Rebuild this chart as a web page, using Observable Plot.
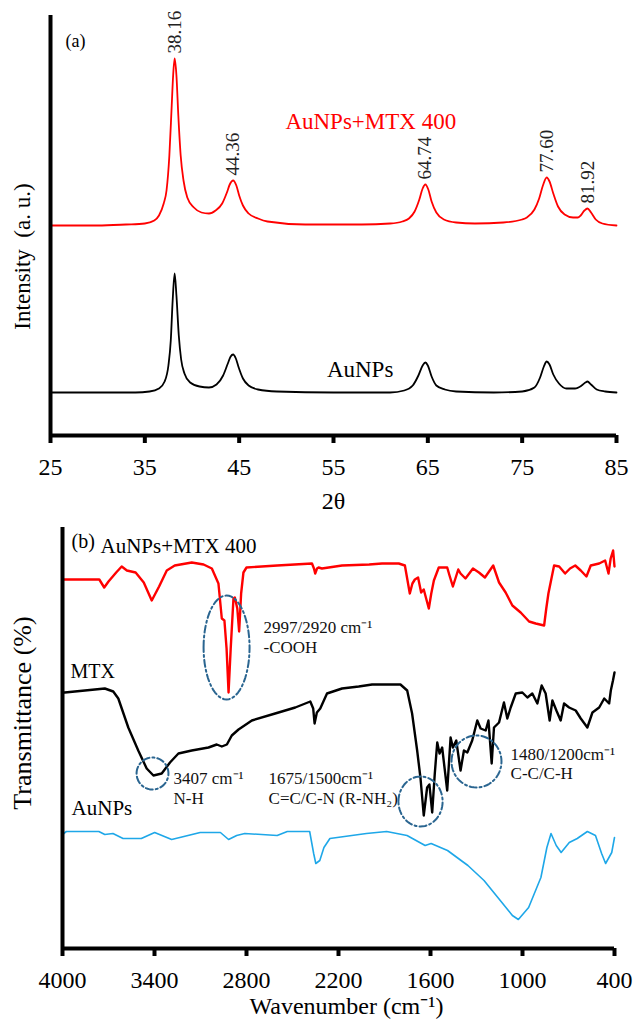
<!DOCTYPE html>
<html><head><meta charset="utf-8">
<script src="https://cdn.jsdelivr.net/npm/d3@7"></script>
<script src="https://cdn.jsdelivr.net/npm/@observablehq/plot@0.6"></script>
<style>
html,body{margin:0;padding:0;background:#fff;}
#chart{width:633px;}
#chart svg{display:block;}
#chart svg, #chart svg text, #chart svg tspan{font-family:"Liberation Serif","Times New Roman",Times,serif !important;}
</style></head><body><div id="chart"></div>
<script>
// ---------- Panel (a): XRD ----------
const xrdTicks = [25, 35, 45, 55, 65, 75, 85];
const xrdRed = [[25,210],[30,210],[33,211],[35,212],[36,215],[36.5,220],[37,232],[37.3,245],[37.6,280],[37.85,330],[38.0,360],[38.16,377],[38.35,360],[38.55,320],[38.8,280],[39.1,255],[39.5,238],[40.2,228],[41,223],[41.8,222],[42.5,225],[43.2,232],[43.7,243],[44.0,251],[44.36,255],[44.7,250],[45.0,240],[45.4,230],[46.0,222],[47,217],[48,214],[52,211],[58,211],[61,212],[62.3,214],[63,217],[63.6,224],[64.1,236],[64.45,247],[64.74,251],[65.05,246],[65.4,234],[65.9,223],[66.7,216],[68,213],[70,212],[73,213],[75,216],[75.5,218],[76.3,226],[76.8,237],[77.2,250],[77.6,258],[77.9,254],[78.3,242],[78.8,229],[79.5,221],[80.4,218],[80.9,218],[81.2,220],[81.6,225],[81.92,227],[82.3,223],[82.8,216],[83.5,212],[85,210]];
const xrdBlack = [[25,43],[30,43],[34,43],[35.5,44],[36.5,47],[37.1,54],[37.5,70],[37.75,95],[37.95,135],[38.16,162],[38.35,140],[38.6,100],[38.85,76],[39.2,62],[39.8,53],[40.8,49],[41.8,48],[42.6,51],[43.3,60],[43.8,72],[44.1,79],[44.36,81],[44.65,77],[44.95,68],[45.4,57],[46.0,50],[47,46],[49,44],[55,43],[61,43],[62.5,45],[63.4,50],[64.0,60],[64.45,70],[64.74,73],[65.0,70],[65.4,59],[65.9,50],[66.8,46],[68,44],[72,43],[75,44],[76.3,48],[76.9,58],[77.3,69],[77.6,74],[77.9,71],[78.3,61],[78.9,52],[79.7,47],[80.6,47],[81.3,50],[81.7,53],[81.92,54],[82.3,51],[82.9,46],[83.8,44],[85,43]];
const peakTheta = [38.16, 44.36, 64.74, 77.60, 81.92];
const peakLabels = ["38.16", "44.36", "64.74", "77.60", "81.92"];
const peakTop = [377, 255, 251, 258, 227];
const xrdNotes = [
  {x: 26.6, y: 394, text: "(a)", color: "black", size: 18},
  {x: 49.9, y: 314, text: "AuNPs+MTX 400", color: "#ff0000", size: 23},
  {x: 54.3, y: 66, text: "AuNPs", color: "black", size: 23}
];

// ---------- Panel (b): FTIR ----------
const wnTicks = [4000, 3400, 2800, 2200, 1600, 1000, 400];
const ftirComposite = [[4000,369],[3850,369],[3760,369],[3728,361],[3700,367],[3650,376],[3614,382],[3580,378],[3523,376],[3470,366],[3418,348],[3370,362],[3320,378],[3268,383],[3157,386],[3080,384],[3026,380],[2983,365],[2961,330],[2944,328],[2930,300],[2917,256],[2903,300],[2885,350],[2876,351],[2860,340],[2848,317],[2835,355],[2820,376],[2800,381],[2600,383],[2373,385],[2360,380],[2352,375],[2340,380],[2330,381],[2308,380],[2264,381],[2177,383],[2000,384],[1916,385],[1807,385],[1767,383],[1759,376],[1735,355],[1718,365],[1702,369],[1681,371],[1661,356],[1644,359],[1611,340],[1595,355],[1578,368],[1546,381],[1491,381],[1476,373],[1454,362],[1419,379],[1404,375],[1372,370],[1323,380],[1284,376],[1245,371],[1191,383],[1153,366],[1110,356],[1066,343],[1012,336],[957,327],[914,325],[859,323],[845,340],[831,355],[794,383],[761,382],[722,375],[690,380],[656,383],[620,378],[583,372],[555,383],[500,385],[461,388],[439,375],[425,390],[409,398],[400,382]];
const ftirMTX = [[4000,256],[3985,256],[3854,258],[3724,260],[3669,257],[3636,250],[3571,221],[3506,198],[3451,180],[3407,173],[3353,175],[3299,186],[3244,195],[3157,198],[3048,201],[2994,204],[2961,202],[2928,204],[2896,213],[2852,219],[2765,228],[2613,235],[2482,241],[2384,247],[2365,240],[2356,225],[2341,236],[2319,240],[2275,255],[2177,260],[2068,262],[1981,264],[1796,264],[1752,258],[1720,235],[1687,198],[1665,170],[1644,133],[1622,161],[1607,164],[1589,136],[1572,175],[1556,206],[1541,195],[1524,201],[1491,158],[1469,211],[1454,201],[1432,208],[1404,178],[1382,198],[1360,196],[1328,208],[1295,228],[1273,220],[1240,218],[1222,228],[1201,185],[1186,221],[1153,226],[1121,246],[1099,230],[1077,241],[1044,255],[1001,256],[968,251],[936,255],[903,245],[875,263],[849,255],[823,228],[805,248],[779,238],[751,228],[729,245],[696,241],[653,238],[620,230],[577,221],[544,236],[500,241],[467,250],[435,245],[424,258],[410,268],[400,276]];
const ftirAuNPs = [[4000,114],[3975,117],[3763,117],[3724,114],[3671,115],[3605,110],[3486,110],[3399,116],[3288,109],[3102,116],[2970,116],[2917,109],[2864,113],[2811,115],[2600,113],[2534,117],[2388,117],[2362,95],[2348,85],[2322,88],[2295,101],[2256,110],[2018,115],[1886,117],[1753,113],[1635,103],[1596,105],[1489,98],[1356,83],[1251,68],[1145,48],[1066,33],[1027,29],[960,41],[880,71],[841,101],[814,115],[780,103],[748,96],[695,106],[643,110],[577,117],[524,113],[484,95],[458,85],[418,96],[400,111]];
const ellipseCenters = [[2930,301],[3413,175],[1665,147],[1300,187]];
const ellipseRadii = [[150,52],[104,16],[144,25],[163,26]];
const ftirLabels = [
  {x: 3941, y: 407, text: "(b)", size: 20},
  {x: 3752, y: 402, text: "AuNPs+MTX 400", size: 21},
  {x: 3948, y: 277, text: "MTX", size: 20},
  {x: 3941, y: 140, text: "AuNPs", size: 21}
];
const ftirNotes = [
  {x: 2689, y: 321, text: "2997/2920 cm⁻¹"},
  {x: 2689, y: 301, text: "-COOH"},
  {x: 3276, y: 170, text: "3407 cm⁻¹"},
  {x: 3276, y: 150, text: "N-H"},
  {x: 2656, y: 170, text: "1675/1500cm⁻¹"},
  {x: 2656, y: 150, text: "C=C/C-N (R-NH₂)"},
  {x: 1078, y: 194, text: "1480/1200cm⁻¹"},
  {x: 1078, y: 175, text: "C-C/C-H"}
];

const font = "Liberation Serif";
const px = d => d[0], py = d => d[1];

const plotA = Plot.plot({
  width: 633, height: 510,
  marginLeft: 50, marginRight: 17, marginTop: 15, marginBottom: 75,
  style: {background: "white", color: "black", overflow: "visible"},
  x: {domain: [25, 85]},
  y: {domain: [0, 420], axis: null},
  marks: [
    Plot.line(xrdBlack, {x: px, y: py, stroke: "black", strokeWidth: 1.8, curve: "monotone-x"}),
    Plot.line(xrdRed, {x: px, y: py, stroke: "#ff0000", strokeWidth: 1.8, curve: "monotone-x"}),
    Plot.text(peakTheta, {x: d => d, y: (d, i) => peakTop[i], text: (d, i) => peakLabels[i], fontFamily: font,
      rotate: -90, textAnchor: "start", lineAnchor: "middle", dy: -5, fontSize: 19, fill: "#222"}),
    Plot.text(xrdNotes, {x: "x", y: "y", text: "text", fill: d => d.color, fontSize: d => d.size, fontFamily: font,
      textAnchor: "start", lineAnchor: "middle"}),
    Plot.ruleY([0], {strokeWidth: 4, stroke: "black"}),
    Plot.ruleX([25], {strokeWidth: 4, stroke: "black"}),
    Plot.axisX({ticks: xrdTicks, tickFormat: d => String(d), tickSize: 8, tickPadding: 14,
      strokeWidth: 4, fontSize: 24, fontFamily: font, label: null}),
    Plot.text(["2θ"], {frameAnchor: "bottom", dy: 66, fontSize: 24, fontFamily: font, lineAnchor: "middle"}),
    Plot.text(["Intensity\u00a0 (a. u.)"], {frameAnchor: "left", rotate: -90, dx: -28, dy: 31, fontFamily: font,
      fontSize: 23, lineAnchor: "middle", textAnchor: "middle"})
  ]
});

const ellipsePts = ellipseCenters.flatMap((c, k) =>
  d3.range(0, 366, 6).map(a => ({
    x: c[0] + ellipseRadii[k][0] * Math.cos(a * Math.PI / 180),
    y: c[1] + ellipseRadii[k][1] * Math.sin(a * Math.PI / 180),
    k
  })));

const plotB = Plot.plot({
  width: 633, height: 510,
  marginLeft: 62, marginRight: 19, marginTop: 17, marginBottom: 72,
  style: {background: "white", color: "black", overflow: "visible"},
  x: {domain: [4000, 400]},
  y: {domain: [0, 421], axis: null},
  marks: [
    Plot.line(ftirAuNPs, {x: px, y: py, stroke: "#1ea7e8", strokeWidth: 1.6, strokeLinejoin: "round"}),
    Plot.line(ftirMTX, {x: px, y: py, stroke: "black", strokeWidth: 2.4, strokeLinejoin: "round"}),
    Plot.line(ftirComposite, {x: px, y: py, stroke: "#ff0000", strokeWidth: 2.4, strokeLinejoin: "round"}),
    Plot.line(ellipsePts, {x: "x", y: "y", z: "k", stroke: "#2a6590", strokeWidth: 2,
      strokeDasharray: "7,3,2,3", curve: "linear-closed"}),
    Plot.text(ftirLabels, {x: "x", y: "y", text: "text", fontSize: d => d.size, fontFamily: font,
      textAnchor: "start", lineAnchor: "middle", fill: "black"}),
    Plot.text(ftirNotes, {x: "x", y: "y", text: "text", fontSize: 17, fontFamily: font,
      textAnchor: "start", lineAnchor: "middle", fill: "#111"}),
    Plot.ruleY([0], {strokeWidth: 4, stroke: "black"}),
    Plot.ruleX([4000], {strokeWidth: 4, stroke: "black"}),
    Plot.axisX({ticks: wnTicks, tickFormat: d => String(d), tickSize: 8, tickPadding: 14,
      strokeWidth: 4, fontSize: 24, fontFamily: font, label: null}),
    Plot.text(["Wavenumber (cm⁻¹)"], {frameAnchor: "bottom", dx: 8, dy: 58, fontSize: 24, fontFamily: font, lineAnchor: "middle"}),
    Plot.text(["Transmittance (%)"], {frameAnchor: "left", rotate: -90, dx: -40, dy: -25, fontFamily: font,
      fontSize: 26, lineAnchor: "middle", textAnchor: "middle"})
  ]
});

document.getElementById("chart").append(plotA, plotB);
</script>
</body></html>
